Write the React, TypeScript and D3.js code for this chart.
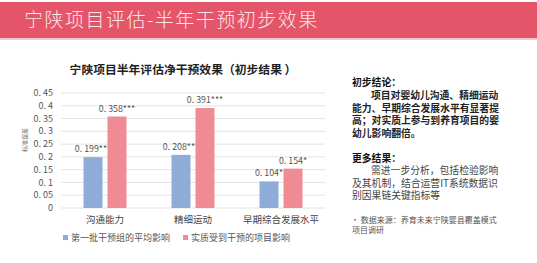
import React from 'react';
import * as d3 from 'd3';

const categories = ['沟通能力', '精细运动', '早期综合发展水平'];
const seriesNames = ['第一批干预组的平均影响', '实质受到干预的项目影响'];
const firstBatch = [0.199, 0.208, 0.104];
const actual = [0.358, 0.391, 0.154];
const firstLabels = ['0.199***', '0.208***', '0.104*'];
const actualLabels = ['0.358***', '0.391***', '0.154*'];
const yTicks = [0, 0.05, 0.1, 0.15, 0.2, 0.25, 0.3, 0.35, 0.4, 0.45];

const conclusion = ['项目对婴幼儿沟通、精细运动', '能力、早期综合发展水平有显著提', '高；对实质上参与到养育项目的婴', '幼儿影响翻倍。'];
const moreResults = ['需进一步分析，包括检验影响', '及其机制，结合运营IT系统数据识', '别因果链关键指标等'];
const source = ['• 数据来源：养育未来宁陕婴县覆盖模式', '项目调研'];

const font = '"Noto Sans CJK SC", sans-serif';
const colors = ['#8fabd7', '#ef8b93'];

const App = () => {
  const left = 61;
  const right = 325;
  const top = 93;
  const bottom = 208;

  const x = d3.scaleBand().domain(categories).range([left, right]);
  const y = d3.scaleLinear().domain([0, 0.45]).range([bottom, top]);
  const barW = 19;
  const gap = 5;

  const series = [firstBatch, actual];
  const labels = [firstLabels, actualLabels];

  return (
    <svg width={537} height={263} style={{ position: 'absolute', left: 0, top: 0 }} fontFamily={font}>
      <rect x={0} y={0} width={537} height={263} fill="#fff" />
      <rect x={0} y={2} width={537} height={36} fill="#e4556a" />
      <rect x={0} y={38} width={537} height={2} fill="#f1c6cc" />
      <text x={24} y={27} fontSize={19} fill="#fbe6e8" letterSpacing={1.5} fontWeight={300}>
        宁陕项目评估-半年干预初步效果
      </text>

      <text x={183} y={74} textAnchor="middle" fontSize={11.8} fontWeight="bold" fill="#222">
        宁陕项目半年评估净干预效果（初步结果 ）
      </text>

      {yTicks.map((t, i) => (
        <g key={i}>
          <line x1={left} x2={right} y1={y(t)} y2={y(t)} stroke="#e3e3e3" strokeWidth={1} />
          <text x={53} y={y(t)} dy="0.35em" textAnchor="end" fontSize={9} fill="#555">
            {t === 0 ? '0' : d3.format('.2~f')(t).replace('.', '. ')}
          </text>
        </g>
      ))}
      <text transform={`translate(27,140) rotate(-90)`} textAnchor="middle" fontSize={6} fill="#666">标准误差</text>

      {categories.map((c, ci) => {
        const cx = (x(c) as number) + x.bandwidth() / 2;
        return (
          <g key={c}>
            {series.map((s, si) => {
              const bx = si === 0 ? cx - gap / 2 - barW : cx + gap / 2;
              return (
                <g key={si}>
                  <rect x={bx} y={y(s[ci])} width={barW} height={bottom - y(s[ci])} fill={colors[si]} />
                  <text x={bx + barW / 2} y={y(s[ci]) - 5} textAnchor="middle" fontSize={8.8} fill="#555">
                    {labels[si][ci].replace('.', '. ')}
                  </text>
                </g>
              );
            })}
            <text x={cx} y={223} textAnchor="middle" fontSize={9.5} fill="#444">{c}</text>
          </g>
        );
      })}

      {seriesNames.map((n, i) => (
        <g key={n} transform={`translate(${i === 0 ? 63 : 183},238)`}>
          <rect x={0} y={-3} width={5} height={5} fill={colors[i]} />
          <text x={8} y={0} dy="0.35em" fontSize={9} fill="#555">{n}</text>
        </g>
      ))}

      <text x={352} y={86} fontSize={9.8} fontWeight="bold" fill="#111">初步结论：</text>
      {conclusion.map((l, i) => (
        <text key={i} x={i === 0 ? 371 : 352} y={99 + i * 12.6} fontSize={9.8} fontWeight="bold" fill="#222">{l}</text>
      ))}
      <text x={352} y={162} fontSize={9.8} fontWeight="bold" fill="#111">更多结果：</text>
      {moreResults.map((l, i) => (
        <text key={i} x={i === 0 ? 371 : 352} y={174 + i * 12.6} fontSize={9.8} fill="#444">{l}</text>
      ))}
      {source.map((l, i) => (
        <text key={i} x={i === 0 ? 351 : 352} y={223 + i * 10} fontSize={8} fill="#555">{l}</text>
      ))}
    </svg>
  );
};

export default App;
